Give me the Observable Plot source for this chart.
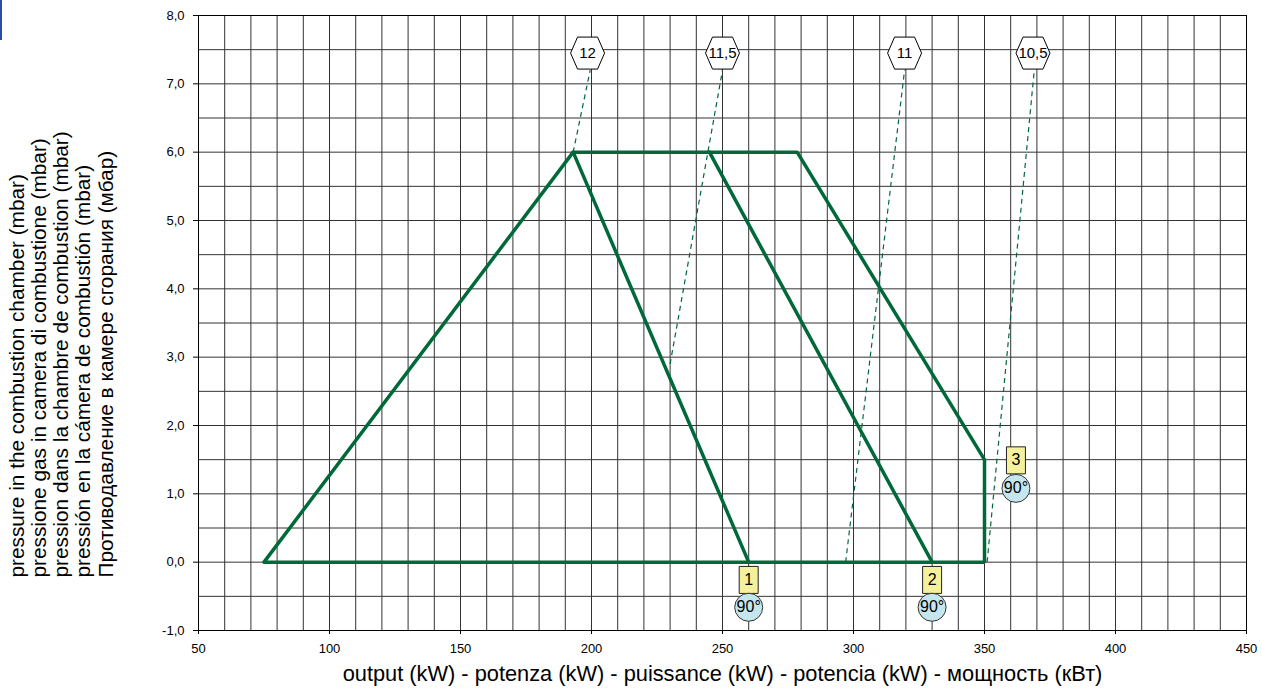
<!DOCTYPE html>
<html><head><meta charset="utf-8">
<script src="https://cdn.jsdelivr.net/npm/d3@7"></script>
<script src="https://cdn.jsdelivr.net/npm/@observablehq/plot@0.6"></script>
<style>
body{margin:0;background:#fff;}
#chart{position:relative;width:1262px;height:697px;}
#mark{position:absolute;left:0;top:0;width:2px;height:40px;background:#2b4ea2;}
</style>
</head><body><div id="chart"><div id="mark"></div></div>
<script>
// ticks
const xTicks = [50, 100, 150, 200, 250, 300, 350, 400, 450];
const yTicks = [-1, 0, 1, 2, 3, 4, 5, 6, 7, 8];
const xGrid = d3.range(50, 451, 10);
const yGrid = d3.range(-1, 8.01, 0.5);

// titles
const xTitle = "output (kW) - potenza (kW) - puissance (kW) - potencia (kW) - мощность (кВт)";
const yTitleLines = [
  "pressure in the combustion chamber (mbar)",
  "pressione gas in camera di combustione (mbar)",
  "pression dans la chambre de combustion (mbar)",
  "pressión en la cámera de combustión (mbar)",
  "Противодавление в камере сгорания (мбар)"
];

// working field envelope
const envelopeX = [75, 193, 278.5, 350, 350, 75];
const envelopeY = [0, 6, 6, 1.5, 0, 0];
// inner curves
const curve1X = [193, 260];
const curve1Y = [6, 0];
const curve2X = [245, 330];
const curve2Y = [6, 0];

// dashed lines with hexagon labels
const dashLabels = ["12", "11,5", "11", "10,5"];
const dashX0 = [193, 230, 297, 351];
const dashY0 = [6, 2.9, 0, 0];
const dashX1 = [199.5, 250, 319.5, 369];
const dashY1 = [7.2, 7.2, 7.2, 7.2];
const hexX = [198.5, 250, 319.5, 368.5];
const hexY = [7.45, 7.45, 7.45, 7.45];

// numbered boxes and angle circles
const boxLabels = ["1", "2", "3"];
const boxX = [260, 330, 362];
const boxY = [-0.26, -0.26, 1.49];
const circleLabels = ["90°", "90°", "90°"];
const circleX = [260, 330, 362];
const circleY = [-0.66, -0.66, 1.08];

const green = "#00693a";
const toPts = (xs, ys) => xs.map((x, i) => ({x, y: ys[i]}));
const dashSegs = dashLabels.map((l, i) => ({x1: dashX0[i], y1: dashY0[i], x2: dashX1[i], y2: dashY1[i]}));
const hexes = dashLabels.map((l, i) => ({x: hexX[i], y: hexY[i], label: l}));
const boxes = boxLabels.map((l, i) => ({x: boxX[i], y: boxY[i], label: l}));
const circles = circleLabels.map((l, i) => ({x: circleX[i], y: circleY[i], label: l}));

const rectSymbol = {draw(ctx) { ctx.rect(-9.5, -13.5, 19, 27); }};
const hexSymbol = {draw(ctx) {
  ctx.moveTo(-17, 0); ctx.lineTo(-10, -16); ctx.lineTo(10, -16);
  ctx.lineTo(17, 0); ctx.lineTo(10, 16); ctx.lineTo(-10, 16); ctx.closePath();
}};
const fmt = d => d.toFixed(1).replace(".", ",");

const plot = Plot.plot({
  width: 1262, height: 697,
  marginLeft: 198, marginRight: 16, marginTop: 15, marginBottom: 67,
  style: {fontFamily: "'Liberation Sans', Arial, sans-serif", fontSize: "13px", color: "#000", background: "#fff"},
  x: {domain: [50, 450]},
  y: {domain: [-1, 8]},
  marks: [
    Plot.gridX(xGrid, {stroke: "#333", strokeOpacity: 1, strokeWidth: 1}),
    Plot.gridY(yGrid, {stroke: "#333", strokeOpacity: 1, strokeWidth: 1}),
    Plot.frame({stroke: "#000"}),
    Plot.axisX(xTicks, {tickSize: 4, tickPadding: 9, label: null, tickFormat: d => String(d)}),
    Plot.axisY(yTicks, {tickSize: 5, tickPadding: 9, label: null, tickFormat: fmt}),
    Plot.line(toPts(envelopeX, envelopeY), {x: "x", y: "y", stroke: green, strokeWidth: 3.5, strokeLinejoin: "miter"}),
    Plot.line(toPts(curve1X, curve1Y), {x: "x", y: "y", stroke: green, strokeWidth: 3.5}),
    Plot.line(toPts(curve2X, curve2Y), {x: "x", y: "y", stroke: green, strokeWidth: 3.5}),
    Plot.link(dashSegs, {x1: "x1", y1: "y1", x2: "x2", y2: "y2", stroke: green, strokeWidth: 1.2, strokeDasharray: "5,4"}),
    Plot.dot(hexes, {x: "x", y: "y", symbol: hexSymbol, fill: "#fff", stroke: "#000", strokeWidth: 1}),
    Plot.text(hexes, {x: "x", y: "y", text: "label", fontSize: 15, fill: "#000"}),
    Plot.dot(boxes, {x: "x", y: "y", symbol: rectSymbol, fill: "#f4f09c", stroke: "#222", strokeWidth: 1}),
    Plot.text(boxes, {x: "x", y: "y", text: "label", fontSize: 16, fill: "#000"}),
    Plot.dot(circles, {x: "x", y: "y", r: 14, fill: "#c6e6ee", stroke: "#333", strokeWidth: 1}),
    Plot.text(circles, {x: "x", y: "y", text: "label", fontSize: 16, fill: "#000"}),
    Plot.text([xTitle], {frameAnchor: "bottom", dy: 50, fontSize: 21.8, fill: "#000"}),
    ...yTitleLines.map((t, i) => Plot.text([t], {frameAnchor: "bottom-left", dx: -175 + i * 22.3, dy: -53, rotate: -90, textAnchor: "start", fontSize: 20.8, fill: "#000"}))
  ]
});
document.getElementById("chart").appendChild(plot);
</script>
</body></html>
